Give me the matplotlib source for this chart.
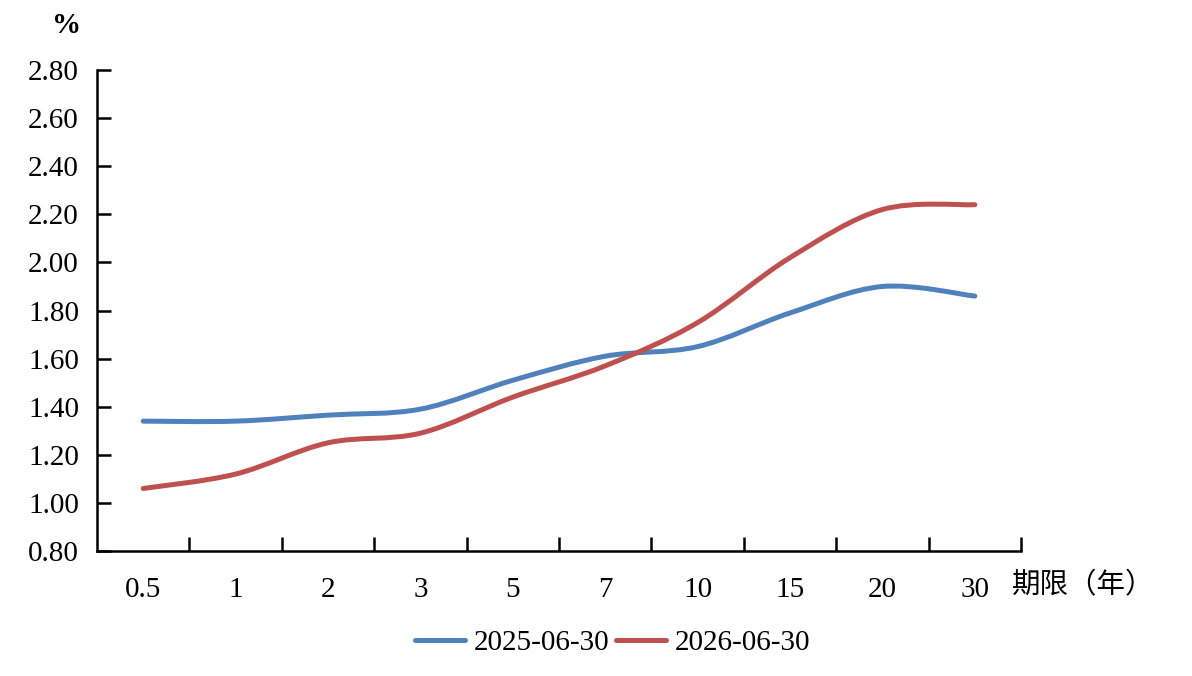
import matplotlib
matplotlib.use("Agg")
import matplotlib.pyplot as plt
from matplotlib.path import Path
from matplotlib.patches import PathPatch
from matplotlib.lines import Line2D
from matplotlib.ticker import FixedLocator, NullFormatter
import numpy as np

plt.rcParams["font.family"] = ["Liberation Serif", "Noto Sans CJK SC", "DejaVu Sans"]

# 期限（年）
tenors = ["0.5", "1", "2", "3", "5", "7", "10", "15", "20", "30"]
yield_2025 = [1.34, 1.34, 1.365, 1.39, 1.51, 1.61, 1.65, 1.79, 1.90, 1.86]
yield_2026 = [1.06, 1.12, 1.25, 1.29, 1.44, 1.57, 1.75, 2.02, 2.22, 2.24]
series_names = ["2025-06-30", "2026-06-30"]
colors = ["#4F81BD", "#C0504D"]
yticks = [0.80, 1.00, 1.20, 1.40, 1.60, 1.80, 2.00, 2.20, 2.40, 2.60, 2.80]


def smooth_path(xs, ys, k=1.0 / 6.0):
    # Excel 式平滑线: 三次贝塞尔, 控制点取相邻点连线方向
    pts = np.column_stack([xs, ys])
    n = len(pts)
    verts = [pts[0]]
    codes = [Path.MOVETO]
    for i in range(n - 1):
        p0 = pts[max(i - 1, 0)]
        p1 = pts[i]
        p2 = pts[i + 1]
        p3 = pts[min(i + 2, n - 1)]
        c1 = p1 + (p2 - p0) * k
        c2 = p2 - (p3 - p1) * k
        verts += [c1, c2, p2]
        codes += [Path.CURVE4] * 3
    return Path(verts, codes)


fig = plt.figure(figsize=(11.92, 6.76), dpi=100)
ax = fig.add_axes([0.0814, 0.1849, 0.7752, 0.7115])

x = np.arange(len(tenors))
for vals, c in zip([yield_2025, yield_2026], colors):
    patch = PathPatch(smooth_path(x, vals), facecolor="none", edgecolor=c,
                      linewidth=3.6, capstyle="round", joinstyle="round")
    ax.add_patch(patch)

ax.set_xlim(-0.5, len(tenors) - 0.5)
ax.set_ylim(0.80, 2.80)
ax.set_yticks(yticks)
ax.set_yticklabels([f"{v:.2f}" for v in yticks], fontsize=21)
ax.set_xticks(x)
ax.set_xticklabels(tenors, fontsize=21)
ax.xaxis.set_minor_locator(FixedLocator(np.arange(0.5, len(tenors), 1.0)))
ax.xaxis.set_minor_formatter(NullFormatter())
ax.tick_params(axis="x", which="major", length=0, pad=19)
ax.tick_params(axis="x", which="minor", direction="in", length=10, width=1.8)
ax.tick_params(axis="y", direction="in", length=10, width=1.8, pad=13)

for side in ["top", "right"]:
    ax.spines[side].set_visible(False)
for side in ["left", "bottom"]:
    ax.spines[side].set_linewidth(1.8)

fig.text(0.056, 0.962, "%", fontsize=21, fontweight="bold", ha="center", va="center")
fig.text(0.9085, 0.1346, "期限（年）", fontsize=20.5, ha="center", va="center",
         family=["Noto Sans CJK SC", "DejaVu Sans"])

handles = [Line2D([0], [0], color=c, linewidth=3.6, solid_capstyle="round") for c in colors]
fig.legend(handles, series_names, loc="center", bbox_to_anchor=(0.514, 0.049),
           ncol=2, frameon=False, fontsize=21, handlelength=1.72,
           handletextpad=0.28, columnspacing=0.24)

fig.savefig("out.png", dpi=100)
